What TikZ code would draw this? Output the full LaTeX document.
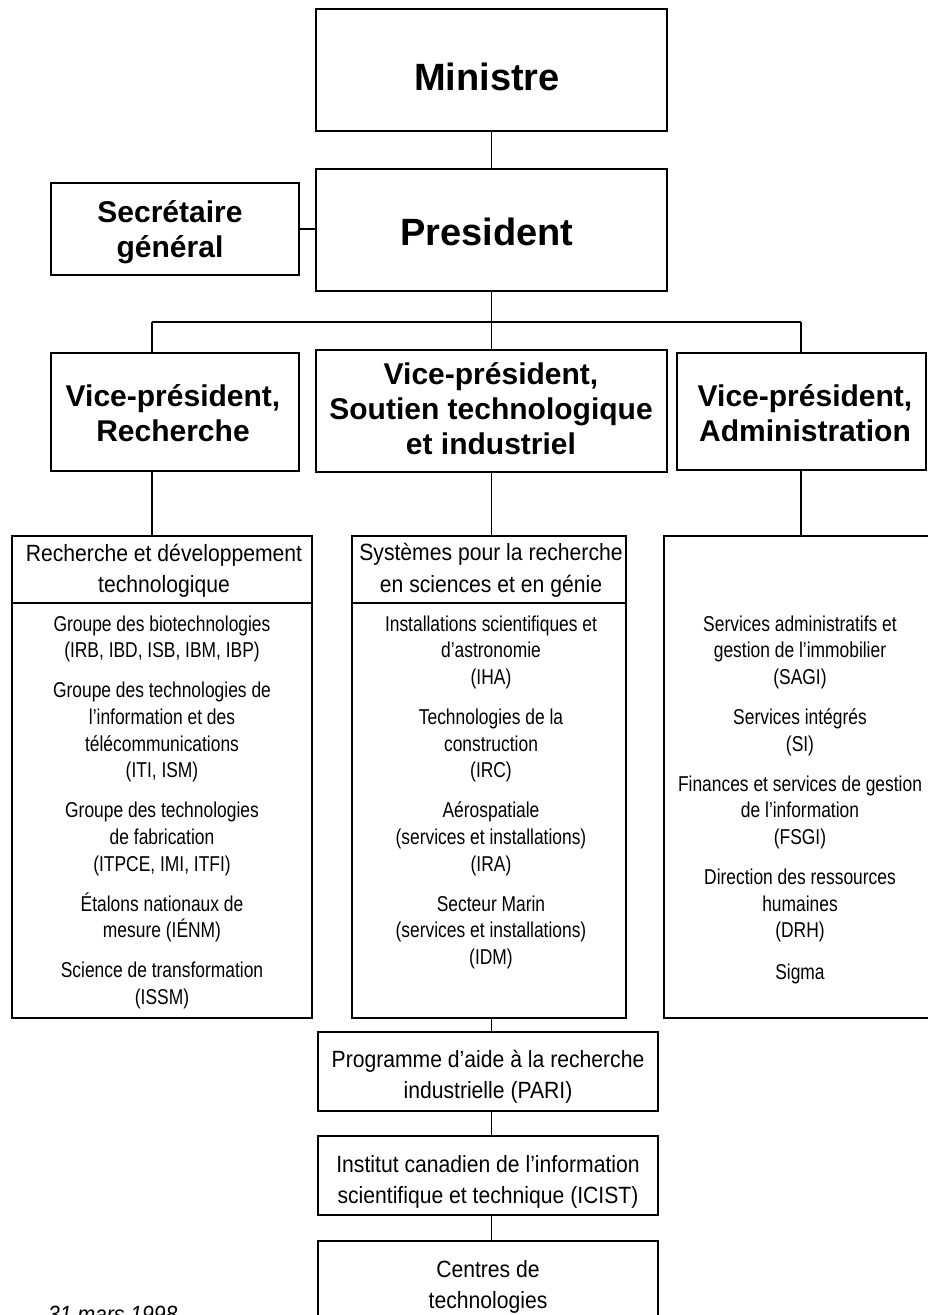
\documentclass[tikz,border=0pt]{standalone}
\usepackage{fontspec}
\setmainfont{Liberation Sans}
\newfontfamily\bodyf{Liberation Sans}[FakeStretch=0.81]
\newfontfamily\headf{Liberation Sans}[FakeStretch=0.90]
\begin{document}
\begin{tikzpicture}[x=1pt,y=-1pt,
  box/.style={draw,line width=1.8pt,rectangle,inner sep=0pt,outer sep=0pt},
  link/.style={line width=1.8pt},
  txt/.style={inner sep=0pt,anchor=base},
  big/.style={txt,font=\bfseries\fontsize{38pt}{44pt}\selectfont},
  vp/.style={txt,font=\bfseries\fontsize{30pt}{35pt}\selectfont},
  head/.style={txt,font=\headf\fontsize{23.5pt}{31pt}\selectfont},
  body/.style={txt,font=\bodyf\fontsize{21.5pt}{26.7pt}\selectfont},
  datef/.style={txt,anchor=base west,font=\headf\itshape\fontsize{23.5pt}{28pt}\selectfont}]
\useasboundingbox (0,0) rectangle (927,1315);
% boxes
\node[box,minimum width=351pt,minimum height=122pt] (min) at (491.5,70) {};
\node[box,minimum width=351pt,minimum height=122pt] (pres) at (491.5,230) {};
\node[box,minimum width=248pt,minimum height=92pt] (sec) at (175,229) {};
\node[box,minimum width=248pt,minimum height=118pt] (vpr) at (175,412) {};
\node[box,minimum width=351pt,minimum height=122pt] (vps) at (491.5,411) {};
\node[box,minimum width=249pt,minimum height=117pt] (vpa) at (801.5,411.5) {};
\node[box,minimum width=300pt,minimum height=482pt] (rd) at (162,777) {};
\node[box,minimum width=274pt,minimum height=482pt] (sys) at (489,777) {};
\node[box,minimum width=276pt,minimum height=482pt] (adm) at (802,777) {};
\node[box,minimum width=340pt,minimum height=79pt] (pari) at (488,1071.5) {};
\node[box,minimum width=340pt,minimum height=79pt] (icist) at (488,1175.5) {};
\node[box,minimum width=340pt,minimum height=99pt] (ctr) at (488,1290.5) {};
% dividers
\draw[link] (rd.west |- 0,603) -- (rd.east |- 0,603);
\draw[link] (sys.west |- 0,603) -- (sys.east |- 0,603);
% connectors
\coordinate (busL) at (152,322);
\coordinate (busR) at (801,322);
\coordinate (busM) at (pres.south |- busL);
\draw[link] (min.south) -- (pres.north);
\draw[link] (sec.east) -- (sec.east -| pres.west);
\draw[link] (pres.south) -- (busM);
\draw[link] (busL) -- (busR);
\draw[link] (busL) -- (busL |- vpr.north);
\draw[link] (busM) -- (busM |- vps.north);
\draw[link] (busR) -- (busR |- vpa.north);
\draw[link] (vpr.south -| busL) -- (rd.north -| busL);
\draw[link] (vps.south) -- (vps.south |- sys.north);
\draw[link] (vpa.south -| busR) -- (adm.north -| busR);
\draw[link] (sys.south -| busM) -- (pari.north -| busM);
\draw[link] (pari.south -| busM) -- (icist.north -| busM);
\draw[link] (icist.south -| busM) -- (ctr.north -| busM);
% top texts
\node[big] (tmin) at (487,90) {Ministre};
\node[big] (tpres) at (487,245) {President};
\node[vp] (tsec1) at (170,222) {Secrétaire};
\node[vp] (tsec2) at (170,257) {général};
\node[vp] (tvpr1) at (173,406) {Vice-président,};
\node[vp] (tvpr2) at (173,441) {Recherche};
\node[vp] (tvps1) at (491,384) {Vice-président,};
\node[vp] (tvps2) at (491,419) {Soutien technologique};
\node[vp] (tvps3) at (491,454) {et industriel};
\node[vp] (tvpa1) at (805,406) {Vice-président,};
\node[vp] (tvpa2) at (805,441) {Administration};
% headers
\node[head] (hrd1) at (164,561) {Recherche et développement};
\node[head] (hrd2) at (164,592) {technologique};
\node[head] (hsys1) at (491,560) {Systèmes pour la recherche};
\node[head] (hsys2) at (491,592) {en sciences et en génie};
% body lists
\foreach \t/\yy [count=\i] in {
  {Groupe des biotechnologies}/631,
  {(IRB, IBD, ISB, IBM, IBP)}/657.7,
  {Groupe des technologies de}/697.7,
  {l’information et des}/724.4,
  {télécommunications}/751.1,
  {(ITI, ISM)}/777.8,
  {Groupe des technologies}/817.8,
  {de fabrication}/844.5,
  {(ITPCE, IMI, ITFI)}/871.2,
  {Étalons nationaux de}/911.2,
  {mesure (IÉNM)}/937.9,
  {Science de transformation}/977.9,
  {(ISSM)}/1004.6}
  \node[body,name=r\i] at (162,\yy) {\t};
\foreach \t/\yy [count=\i] in {
  {Installations scientifiques et}/631,
  {d’astronomie}/657.7,
  {(IHA)}/684.4,
  {Technologies de la}/724.4,
  {construction}/751.1,
  {(IRC)}/777.8,
  {Aérospatiale}/817.8,
  {(services et installations)}/844.5,
  {(IRA)}/871.2,
  {Secteur Marin}/911.2,
  {(services et installations)}/937.9,
  {(IDM)}/964.6}
  \node[body,name=s\i] at (491,\yy) {\t};
\foreach \t/\yy [count=\i] in {
  {Services administratifs et}/631,
  {gestion de l’immobilier}/657.7,
  {(SAGI)}/684.4,
  {Services intégrés}/724.4,
  {(SI)}/751.1,
  {Finances et services de gestion}/791.1,
  {de l’information}/817.8,
  {(FSGI)}/844.5,
  {Direction des ressources}/884.5,
  {humaines}/911.2,
  {(DRH)}/937.9,
  {Sigma}/979}
  \node[body,name=a\i] at (800,\yy) {\t};
% lower boxes
\node[head] (tp1) at (488,1067) {Programme d’aide à la recherche};
\node[head] (tp2) at (488,1098) {industrielle (PARI)};
\node[head] (ti1) at (488,1172) {Institut canadien de l’information};
\node[head] (ti2) at (488,1203) {scientifique et technique (ICIST)};
\node[head] (tc1) at (488,1277) {Centres de};
\node[head] (tc2) at (488,1308) {technologies};
\node[datef] (date) at (48,1322) {31 mars 1998};
\end{tikzpicture}
\end{document}
